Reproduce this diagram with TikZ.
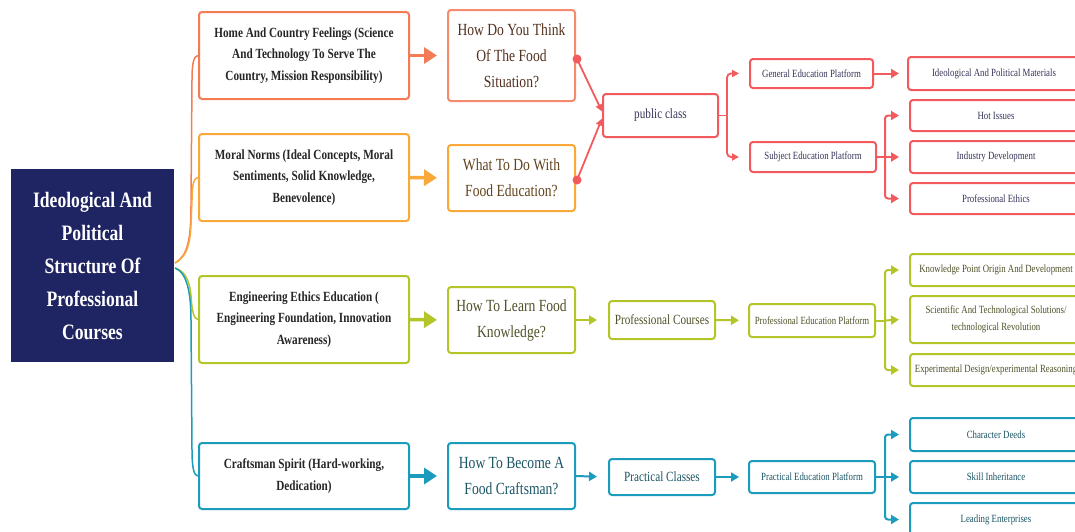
\documentclass[tikz,border=0pt]{standalone}
\usepackage{fontspec}
\setmainfont{Liberation Serif}[FakeStretch=0.8]
\usetikzlibrary{arrows.meta,calc}
\definecolor{navy}{HTML}{1F2462}
\definecolor{cA}{HTML}{F47C55}
\definecolor{cAb}{HTML}{F58B6C}
\definecolor{cB}{HTML}{F9A93A}
\definecolor{cR}{HTML}{F25A5E}
\definecolor{cG}{HTML}{B4C52A}
\definecolor{cT}{HTML}{1B9CBC}
\definecolor{tA}{HTML}{53301F}
\definecolor{tB}{HTML}{62441C}
\definecolor{tG}{HTML}{505128}
\definecolor{tT}{HTML}{1B5464}
\definecolor{tR}{HTML}{35355A}
\begin{document}
\begin{tikzpicture}[x=1pt,y=-1pt,
  box/.style={rectangle,rounded corners=3pt,draw,line width=2pt,fill=white,align=center,inner sep=0pt},
  lone/.style={box,minimum width=210pt,font=\bfseries\fontsize{14}{21.5}\selectfont,text=black!85},
  ltwo/.style={box,minimum width=127pt,minimum height=66pt,font=\fontsize{17}{26}\selectfont},
  mid/.style={box,minimum width=106pt,font=\fontsize{14}{17}\selectfont},
  plat/.style={box,minimum width=126pt,font=\fontsize{11}{14}\selectfont},
  leaf/.style={box,minimum width=172pt,font=\fontsize{11}{16.5}\selectfont},
  link/.style={line width=1.5pt},
  bigarrow/.style={line width=3.5pt,-{Triangle[length=13pt,width=16pt]},shorten >=10pt},
  arr/.style={line width=2pt,-{Triangle[length=8pt,width=9pt]}},
  smallarr/.style={line width=1.8pt,-{Triangle[length=7pt,width=7pt]}}]
\useasboundingbox (0,0) rectangle (1075,531);
\clip (0,0) rectangle (1075,531);

% root
\node[fill=navy,text=white,minimum width=163pt,minimum height=193pt,align=center,
  font=\bfseries\fontsize{22}{33}\selectfont] (root) at (92.5,265.5)
  {Ideological And\\Political\\Structure Of\\Professional\\Courses};

% level one
\node[lone,draw=cA,minimum height=87pt] (h1) at (304,55.5)
  {Home And Country Feelings (Science\\And Technology To Serve The\\Country, Mission Responsibility)};
\node[lone,draw=cB,minimum height=87pt] (m1) at (304,177.5)
  {Moral Norms (Ideal Concepts, Moral\\Sentiments, Solid Knowledge,\\Benevolence)};
\node[lone,draw=cG,minimum height=87pt] (e1) at (304,319.5)
  {Engineering Ethics Education (\\Engineering Foundation, Innovation\\Awareness)};
\node[lone,draw=cT,minimum height=66pt] (c1) at (304,476)
  {Craftsman Spirit (Hard-working,\\Dedication)};

% root links
\coordinate (r1) at (175,263);
\coordinate (r2) at (175,268);
\draw[link,cA] (r1) .. controls (188,256) and (191,238) .. (191,205) -- (192,80) .. controls (192,62) and (194,56) .. (h1.west);
\draw[link,cB] (r1) .. controls (187,257) and (190,244) .. (191,225) -- (192,200) .. controls (192,184) and (194,178) .. (m1.west);
\draw[link,cG] (r2) .. controls (186,271) and (190,283) .. (191,296) .. controls (192,312) and (194,319) .. (e1.west);
\draw[link,cT] (r2) .. controls (186,272) and (191,290) .. (191,320) -- (192,450) .. controls (192,468) and (194,476) .. (c1.west);

% level two
\node[ltwo,draw=cAb,text=tA,minimum height=91pt] (h2) at (511.5,55.5) {How Do You Think\\Of The Food\\Situation?};
\node[ltwo,draw=cB,text=tB] (m2) at (511.5,178) {What To Do With\\Food Education?};
\node[ltwo,draw=cG,text=tG] (e2) at (511.5,320) {How To Learn Food\\Knowledge?};
\node[ltwo,draw=cT,text=tT] (c2) at (511.5,476) {How To Become A\\Food Craftsman?};

\draw[bigarrow,cA] (h1.east) -- (h2.west);
\draw[bigarrow,cB] (m1.east) -- (m2.west);
\draw[bigarrow,cG] (e1.east) -- (e2.west);
\draw[bigarrow,cT] (c1.east) -- (c2.west);

% red branch
\node[box,draw=cR,text=tR,minimum width=115pt,minimum height=43pt,font=\fontsize{14}{17}\selectfont] (pc) at (660.5,115.5) {public class};
\coordinate (d1) at (577,59);
\coordinate (d2) at (577,180);
\draw[smallarr,cR] (d1) -- (pc.176.5);
\draw[smallarr,cR] (d2) -- (pc.183.5);
\fill[cR] (d1) circle (4.5pt);
\fill[cR] (d2) circle (4.5pt);

\node[plat,draw=cR,text=tR,minimum width=123pt,minimum height=29pt] (gep) at (811.5,73.5) {General Education Platform};
\node[plat,draw=cR,text=tR,minimum height=30pt] (sep) at (813,157) {Subject Education Platform};
\coordinate (j1) at ($(pc.east)+(8,0)$);
\draw[line width=1.8pt,cR] (pc.east) -- (j1);
\draw[smallarr,cR,rounded corners=4pt] (j1) |- ([xshift=-10pt]gep.west);
\draw[smallarr,cR,rounded corners=4pt] (j1) |- ([xshift=-10pt]sep.west);

\node[leaf,draw=cR,text=tR,minimum height=33pt] (ipm) at (994,73.5) {Ideological And Political Materials};
\node[leaf,draw=cR,text=tR,minimum height=31pt] (hot) at (996,115.5) {Hot Issues};
\node[leaf,draw=cR,text=tR,minimum height=32pt] (ind) at (996,157) {Industry Development};
\node[leaf,draw=cR,text=tR,minimum height=31pt] (pe) at (996,198.5) {Professional Ethics};
\draw[arr,cR,shorten >=8pt] (gep.east) -- (ipm.west);
\coordinate (j2) at ($(sep.east)+(8,0)$);
\draw[line width=2pt,cR] (sep.east) -- (j2);
\draw[arr,cR,rounded corners=3pt] (j2) |- ([xshift=-10pt]hot.west);
\draw[arr,cR] (j2) -- ([xshift=-10pt]ind.west);
\draw[arr,cR,rounded corners=3pt] (j2) |- ([xshift=-10pt]pe.west);

% green branch
\node[mid,draw=cG,text=tG,minimum height=38pt] (pcs) at (662,320) {Professional Courses};
\node[plat,draw=cG,text=tG,minimum height=33pt] (pep) at (812,320.5) {Professional Education Platform};
\draw[arr,cG,shorten >=11pt] (e2.east) -- (pcs.west);
\draw[arr,cG,shorten >=9pt] (pcs.east) -- (pep.west);
\node[leaf,draw=cG,text=tG,minimum height=32pt] (kpo) at (996,270) {Knowledge Point Origin And Development};
\node[leaf,draw=cG,text=tG,minimum height=47pt] (sts) at (996,319.5) {Scientific And Technological Solutions/\\technological Revolution};
\node[leaf,draw=cG,text=tG,minimum height=32pt] (edr) at (996,370) {Experimental Design/experimental Reasoning};
\coordinate (j3) at ($(pep.east)+(9,0)$);
\draw[line width=2pt,cG] (pep.east) -- (j3);
\draw[arr,cG,rounded corners=3pt] (j3) |- ([xshift=-10pt]kpo.west);
\draw[arr,cG] (j3) -- ([xshift=-10pt]sts.west);
\draw[arr,cG,rounded corners=3pt] (j3) |- ([xshift=-10pt]edr.west);

% teal branch
\node[mid,draw=cT,text=tT,minimum height=36pt] (prc) at (662,477) {Practical Classes};
\node[plat,draw=cT,text=tT,minimum height=32pt] (ppe) at (812,477) {Practical Education Platform};
\draw[arr,cT,shorten >=11pt] (c2.east) -- (prc.west);
\draw[arr,cT,shorten >=9pt] (prc.east) -- (ppe.west);
\node[leaf,draw=cT,text=tT,minimum height=33pt] (chd) at (996,434.5) {Character Deeds};
\node[leaf,draw=cT,text=tT,minimum height=32pt] (ski) at (996,477) {Skill Inheritance};
\node[leaf,draw=cT,text=tT,minimum height=33pt] (lee) at (996,519.5) {Leading Enterprises};
\coordinate (j4) at ($(ppe.east)+(9,0)$);
\draw[line width=2pt,cT] (ppe.east) -- (j4);
\draw[arr,cT,rounded corners=3pt] (j4) |- ([xshift=-10pt]chd.west);
\draw[arr,cT] (j4) -- ([xshift=-10pt]ski.west);
\draw[arr,cT,rounded corners=3pt] (j4) |- ([xshift=-10pt]lee.west);
\end{tikzpicture}
\end{document}
